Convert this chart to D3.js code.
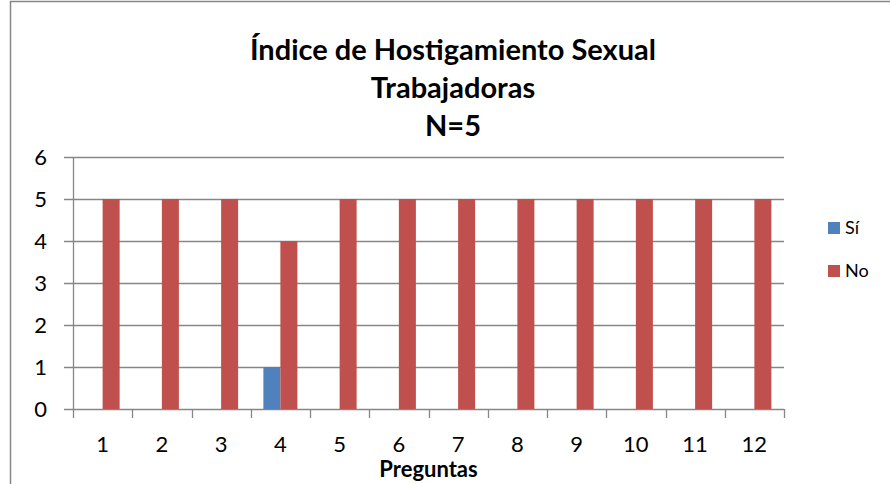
<!DOCTYPE html>
<html>
<head>
<meta charset="utf-8">
<script src="https://cdn.jsdelivr.net/npm/d3@7"></script>
<style>
  body { margin: 0; background: #fff; }
  svg { display: block; font-family: Lato, "Liberation Sans", sans-serif; }
</style>
</head>
<body>
<div id="chart"></div>
<script>
// Data
var preguntas = ["1","2","3","4","5","6","7","8","9","10","11","12"];
var si = [0, 0, 0, 1, 0, 0, 0, 0, 0, 0, 0, 0];
var no = [5, 5, 5, 4, 5, 5, 5, 5, 5, 5, 5, 5];
var seriesNames = ["Sí", "No"];
var seriesColors = ["#4F81BD", "#C0504D"];
var yTicks = [0, 1, 2, 3, 4, 5, 6];
var titleLines = ["Índice de Hostigamiento Sexual", "Trabajadoras", "N=5"];

var W = 890, H = 484;
var margin = {top: 157, right: 106, bottom: 75, left: 73};
var width = W - margin.left - margin.right,
    height = H - margin.top - margin.bottom;

var svg = d3.select("#chart").append("svg")
  .attr("width", W)
  .attr("height", H);

// chart border (Excel chart area)
svg.append("rect")
  .attr("x", 10.5).attr("y", 1.5)
  .attr("width", 960).attr("height", 600)
  .attr("fill", "none")
  .attr("stroke", "#878787")
  .attr("stroke-width", 1.5);

var g = svg.append("g")
  .attr("transform", "translate(" + margin.left + "," + margin.top + ")");

var x = d3.scaleBand()
  .domain(preguntas)
  .range([0, width]);

var y = d3.scaleLinear()
  .domain([0, 6])
  .range([height, 0]);

// gridlines + y ticks
g.selectAll(".grid")
  .data(yTicks)
  .enter().append("line")
  .attr("x1", -9).attr("x2", width)
  .attr("y1", function(d) { return Math.round(y(d)) + 0.5; })
  .attr("y2", function(d) { return Math.round(y(d)) + 0.5; })
  .attr("stroke", "#868686")
  .attr("stroke-width", 1.3);

// y axis line
g.append("line")
  .attr("x1", 0.5).attr("x2", 0.5)
  .attr("y1", 0).attr("y2", height)
  .attr("stroke", "#868686")
  .attr("stroke-width", 1.3);

// y labels
g.selectAll(".ylab")
  .data(yTicks)
  .enter().append("text")
  .attr("x", -26)
  .attr("y", function(d) { return y(d); })
  .attr("dy", "0.36em")
  .attr("text-anchor", "end")
  .attr("font-size", 22)
  .attr("fill", "#000")
  .text(function(d) { return d; });

// x ticks
var xTickPos = preguntas.map(function(p) { return x(p); }).concat([width]);
g.selectAll(".xtick")
  .data(xTickPos)
  .enter().append("line")
  .attr("x1", function(d) { return Math.round(d) + 0.5; })
  .attr("x2", function(d) { return Math.round(d) + 0.5; })
  .attr("y1", height).attr("y2", height + 9)
  .attr("stroke", "#868686")
  .attr("stroke-width", 1.3);

// x labels
g.selectAll(".xlab")
  .data(preguntas)
  .enter().append("text")
  .attr("x", function(d) { return x(d) + x.bandwidth() / 2; })
  .attr("y", height + 35)
  .attr("dy", "0.36em")
  .attr("text-anchor", "middle")
  .attr("font-size", 22)
  .attr("fill", "#000")
  .text(function(d) { return d; });

// bars
var barW = 17;
var sets = [si, no];
sets.forEach(function(vals, s) {
  g.selectAll(".bar" + s)
    .data(preguntas)
    .enter().append("rect")
    .filter(function(d, i) { return vals[i] > 0; })
    .attr("x", function(d) { return x(d) + x.bandwidth() / 2 + (s - 1) * barW; })
    .attr("y", function(d) { return y(vals[preguntas.indexOf(d)]); })
    .attr("width", barW)
    .attr("height", function(d) { return height - y(vals[preguntas.indexOf(d)]); })
    .attr("fill", seriesColors[s]);
});

// axis title
g.append("text")
  .attr("x", width / 2)
  .attr("y", 477 - margin.top)
  .attr("text-anchor", "middle")
  .attr("font-size", 22)
  .attr("font-weight", "bold")
  .text("Preguntas");

// title
svg.selectAll(".title")
  .data(titleLines)
  .enter().append("text")
  .attr("x", 453)
  .attr("y", function(d, i) { return 60 + i * 38; })
  .attr("text-anchor", "middle")
  .attr("font-size", 29)
  .attr("font-weight", "bold")
  .text(function(d) { return d; });

// legend
var legend = svg.selectAll(".legend")
  .data(seriesNames)
  .enter().append("g")
  .attr("transform", function(d, i) { return "translate(828," + (222 + i * 43) + ")"; });

legend.append("rect")
  .attr("width", 12).attr("height", 12)
  .attr("fill", function(d, i) { return seriesColors[i]; });

legend.append("text")
  .attr("x", 17)
  .attr("y", 6)
  .attr("dy", "0.36em")
  .attr("font-size", 18)
  .text(function(d) { return d; });
</script>
</body>
</html>
